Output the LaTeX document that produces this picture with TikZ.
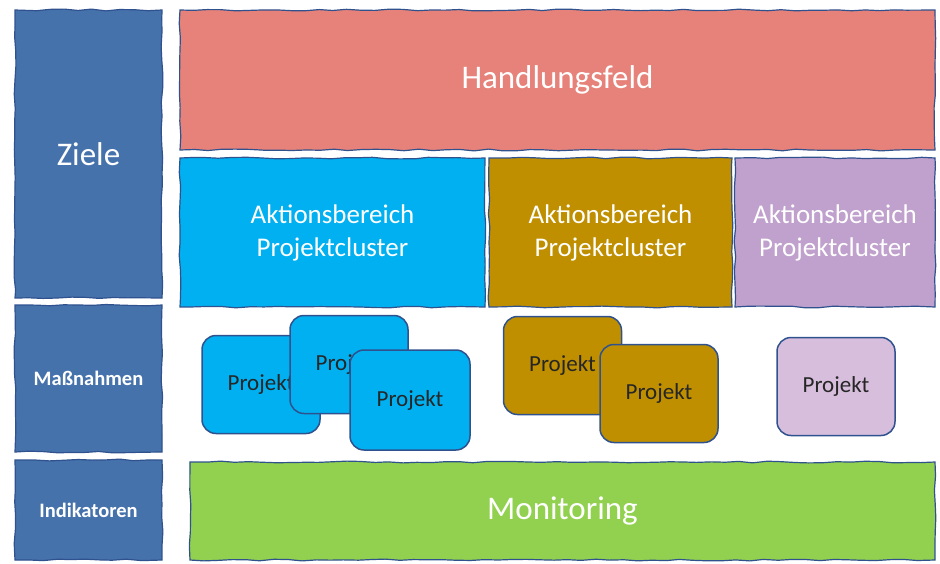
\documentclass[tikz,border=0pt]{standalone}
\usepackage{fontspec}
\setmainfont{Carlito}
\usetikzlibrary{decorations.pathmorphing}
\definecolor{myblue}{RGB}{70,114,172}
\definecolor{myline}{RGB}{47,82,143}
\definecolor{myred}{RGB}{230,130,122}
\definecolor{mycyan}{RGB}{0,176,240}
\definecolor{mygold}{RGB}{191,143,0}
\definecolor{mylila}{RGB}{192,160,204}
\definecolor{mylilalight}{RGB}{214,190,220}
\definecolor{mygreen}{RGB}{146,208,80}

\tikzset{
  sketch/.style={draw=myline, line width=1.2pt, decorate,
    decoration={random steps, segment length=14pt, amplitude=0.9pt}},
  box/.style={sketch, inner sep=0pt, align=center, text=white},
  proj/.style={draw=myline, line width=1.5pt, rounded corners=14pt, inner sep=0pt,
    minimum width=118pt, minimum height=98pt, text=black!85,
    font=\fontsize{23}{26}\selectfont},
}

\begin{document}
\begin{tikzpicture}[x=1pt,y=-1pt]
\pgfmathsetseed{7}
\useasboundingbox (0,0) rectangle (940,563);

% left column
\node[box, fill=myblue, minimum width=147pt, minimum height=288pt,
  font=\fontsize{33}{40}\selectfont] (ziele) at (88.5,154) {Ziele};
\node[box, fill=myblue, minimum width=147pt, minimum height=147pt,
  font=\bfseries\fontsize{20.5}{24}\selectfont] (massn) at (88.5,378.5) {Maßnahmen};
\node[box, fill=myblue, minimum width=147pt, minimum height=100pt,
  font=\bfseries\fontsize{20.5}{24}\selectfont] (indik) at (88.5,510) {Indikatoren};

% top rows
\node[box, fill=myred, minimum width=755pt, minimum height=140pt,
  font=\fontsize{33}{40}\selectfont] (handl) at (557.5,80) {Handlungsfeld};
\node[box, fill=mycyan, minimum width=305pt, minimum height=149pt,
  font=\fontsize{27}{33}\selectfont] (ab1) at (332.5,232.5) {Aktionsbereich\\Projektcluster};
\node[box, fill=mygold, minimum width=243pt, minimum height=149pt,
  font=\fontsize{27}{33}\selectfont] (ab2) at (610.5,232.5) {Aktionsbereich\\Projektcluster};
\node[box, fill=mylila, minimum width=200pt, minimum height=149pt,
  font=\fontsize{27}{33}\selectfont] (ab3) at (835,232.5) {Aktionsbereich\\Projektcluster};

% projects
\node[proj, fill=mycyan] (p1) at (261,384.5) {Projekt};
\node[proj, fill=mycyan] (p2) at (349,364.5) {Projekt};
\node[proj, fill=mycyan, minimum width=120pt, minimum height=100pt] (p3) at (410,400) {Projekt};
\node[proj, fill=mygold] (g1) at (562.5,365.5) {Projekt};
\node[proj, fill=mygold] (g2) at (659,393.5) {Projekt};
\node[proj, fill=mylilalight] (l1) at (836,386.5) {Projekt};

% bottom row
\node[box, fill=mygreen, minimum width=745pt, minimum height=98pt,
  font=\fontsize{33}{40}\selectfont] (monit) at (562.5,511) {Monitoring};
\end{tikzpicture}
\end{document}
